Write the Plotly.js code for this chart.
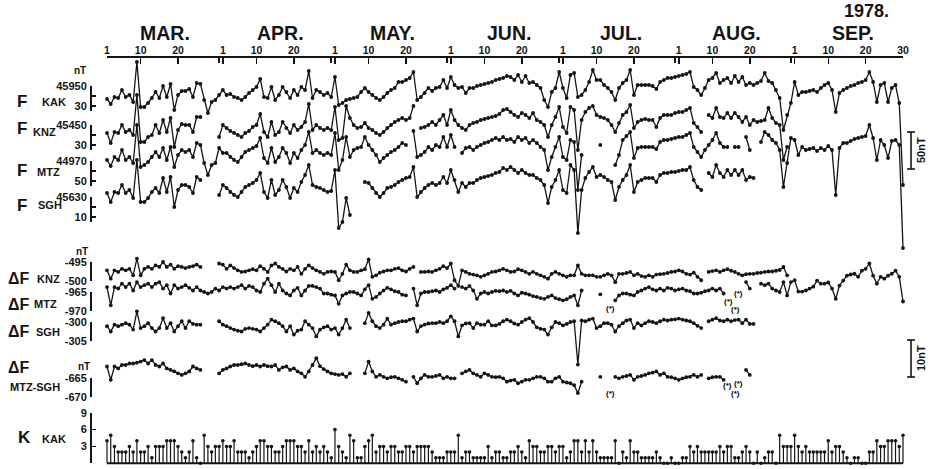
<!DOCTYPE html>
<html><head><meta charset="utf-8">
<script src="https://cdn.plot.ly/plotly-3.0.1.min.js"></script>
<style>html,body{margin:0;padding:0;background:#fff}#chart{width:930px;height:469px}</style>
</head><body><div id="chart"></div>
<script>
const N = null;
// ---- categories: 1 March 1978 .. 30 September 1978 (one value per day) ----
const monthNames = ['MAR.','APR.','MAY.','JUN.','JUL.','AUG.','SEP.'];
const monthLengths = [31,30,31,30,31,31,30];
const dayTickLabels = [1,10,20];
const yearLabel = '1978.';

// ---- F, total intensity (nT) ----
const fKAK = [45937,45932,45939,45938,45946,45939,45941,45934,45974,45929,
 45929,45933,45938,45944,45938,45950,45939,45952,45926,45941,
 45945,45945,45947,45939,45953,45952,45936,45923,45934,45936,
 45941,45946,45941,45942,45939,45938,45936,45939,45943,45946,
 45949,45957,45939,45938,45949,45936,45941,45949,45944,45938,
 45946,45941,45949,45946,45965,45938,45946,45944,45941,45943,
 45939,45959,45931,45933,45936,45937,45938,45939,45944,45948,
 45944,45941,45938,45936,45939,45943,45946,45948,45954,45954,
 45956,45958,45964,45936,45939,45943,45948,45945,45948,45949,
 45956,45948,45959,45951,45948,45949,45943,45948,45948,45950,
 45951,45952,45953,45954,45956,45957,45958,45960,45959,45956,
 45961,45954,45960,45953,45954,45951,45948,45936,45929,45944,
 45948,45964,45948,45938,45961,45963,45939,45941,45946,45954,
 45966,45956,45956,45951,45948,45944,45936,45948,45953,45956,
 45966,45941,45951,45951,45951,45951,45950,45947,45954,45956,
 45958,45958,45959,45960,45961,45962,45964,45949,45946,45941,
 45948,45956,45958,45963,45953,45956,45958,45953,45960,45954,
 45959,45951,45953,45951,45953,45955,45963,45955,45953,45946,
 45938,45906,45921,45933,45954,45941,45944,45944,45945,45946,
 45944,45948,45951,45953,45946,45924,45943,45946,45948,45950,
 45951,45953,45954,45956,45964,45954,45934,45951,45953,45934,
 45948,45951,45933,45851];
const fKNZ = [45442,45432,45443,45442,45450,45443,45445,45440,45480,45433,
 45433,45438,45440,45450,45442,45455,45443,45457,45428,45445,
 45451,45450,45450,45443,45458,45458,N,N,N,N,
 45438,45450,45447,45444,45442,45440,45438,45442,45444,45448,
 45450,45461,45443,45438,45453,45440,45443,45453,45447,45442,
 45450,45445,45448,45453,45471,45445,45450,45447,45445,45447,
 45445,45468,45435,45437,45469,45457,45450,45447,45448,45452,
 45447,45445,45442,45440,45443,45447,45450,45453,45455,45457,
 45455,45457,45469,N,45447,45448,45450,45453,45450,45455,
 45460,45450,45465,45455,45450,45447,45445,45450,45452,45453,
 45455,45456,45457,45458,45459,45461,45465,45466,45463,45460,
 45458,45462,45460,45457,45462,45455,45453,45450,45438,45450,
 45458,45468,45448,45442,45468,45465,45425,45455,45463,45467,
 45469,45460,45458,45457,45455,45450,45443,45452,45460,45463,
 45470,45447,45453,45455,45456,45455,45455,45448,45457,45460,
 45460,45460,45462,45463,45463,45465,45467,45452,45448,45443,
 N,45460,45457,45467,45458,45457,45462,45457,45462,45458,
 45453,45458,45450,45455,45453,45454,45455,45467,45457,45452,
 45450,45415,45428,N,N,N,N,N,N,N,
 N,N,N,N,N,N,N,N,N,N,
 N,N,N,N,N,N,N,N,N,N,
 N,N,N,N];
const fMTZ = [44971,44965,44974,44971,44981,44971,44974,44968,45006,44964,
 44966,44969,44974,44979,44974,44983,44971,44984,44964,44976,
 44981,44979,44981,44974,44988,44986,44968,44956,44966,44968,
 44983,44978,44978,44974,44971,44969,44974,44979,44981,44983,
 44985,44993,44973,44968,44983,44969,44974,44983,44978,44968,
 44978,44973,44981,44986,44999,44978,44981,44978,44976,44978,
 44976,44998,44961,44971,44994,44974,44981,44983,44984,44994,
 44986,44981,44976,44969,44973,44976,44979,44981,44984,44988,
 44986,N,45000,44974,44976,44979,44984,44981,44986,44984,
 44994,44984,44996,44984,N,44978,44983,44984,44981,44984,
 44986,44988,44989,44991,44993,44991,44994,44991,44992,44989,
 44994,44991,44993,44988,44991,44988,44984,44981,44961,44974,
 44984,44994,44974,44971,44991,44989,44941,44976,N,N,
 N,N,44986,N,N,N,44966,44976,44991,44995,
 44999,44973,44983,44984,44984,44984,44984,44982,44989,44991,
 44991,44992,44993,44994,44994,44996,44998,44984,44979,44974,
 44981,44986,44991,44998,44988,44984,44984,N,44984,44984,
 N,44994,44981,N,N,44989,44999,44996,44991,44988,
 44981,44944,44968,44993,44991,44976,44984,44981,44982,44983,
 44980,44983,44981,44985,44981,44936,44983,44988,44988,44990,
 44992,44993,44994,44995,45006,44993,44971,44991,44986,44973,
 44990,44991,44986,44883];
const fSGH = [45634,45625,45635,45634,45642,45634,45637,45629,45667,45625,
 45625,45629,45635,45639,45634,45649,45635,45650,45620,45637,
 45642,45642,45640,45634,45650,45647,N,N,N,N,
 45632,45642,45639,45635,45632,45630,45635,45640,45642,45644,
 45647,45654,45635,45629,45647,45632,45637,45647,45640,45629,
 45639,45635,45645,45652,45662,45642,45640,45639,45637,45635,
 45636,45657,45599,45605,45629,45612,N,N,N,45645,
 45644,45639,45634,45630,45634,45639,45640,45642,45645,45647,
 45649,45650,45660,45630,45635,45639,45642,45644,45642,45644,
 45650,45644,45657,45647,45635,45644,45640,45644,45644,45647,
 45649,45650,45651,45652,45654,45655,45659,45657,45660,45657,
 45654,45657,45654,45652,45652,45649,45647,45642,45624,45640,
 45647,45657,45637,45634,45662,45657,45594,45637,45649,45655,
 45660,45650,45652,45650,45647,45645,45627,45640,45647,45652,
 45662,45635,45645,45647,45649,45649,45649,45645,45652,45654,
 45654,45655,45655,45656,45657,45657,45660,45647,45640,45637,
 N,45654,45650,45662,45654,45650,45657,45652,45657,45652,
 45657,45647,45650,45649,N,N,N,N,N,N,
 N,N,N,N,N,N,N,N,N,N,
 N,N,N,N,N,N,N,N,N,N,
 N,N,N,N,N,N,N,N,N,N,
 N,N,N,N];

// ---- Delta F, station minus KAK (nT) ----
const dKNZ = [-497.2,-499.4,-497.2,-497.6,-496.8,-497.2,-496.8,-498.5,-494.1,-498.5,
 -496.8,-496.3,-496.8,-495.9,-496.3,-495.0,-496.3,-495.7,-496.8,-496.1,
 -496.3,-496.6,-496.3,-496.1,-495.7,-496.3,N,N,N,N,
 -495.4,-495.7,-496.8,-495.9,-496.6,-497.2,-497.6,-497.5,-497.2,-496.9,
 -497.2,-496.1,-496.8,-497.6,-495.9,-495.4,-496.3,-496.8,-497.5,-496.8,
 -497.2,-496.3,-498.1,-496.8,-495.9,-496.6,-497.2,-497.6,-498.1,-497.6,
 -497.5,-497.6,-499.8,-498.1,-495.7,-497.2,-497.6,-497.6,-497.2,-496.9,
 -494.3,-498.9,-498.5,-497.8,-497.5,-497.2,-497.2,-496.8,-496.6,-497.2,
 -497.5,-496.8,-496.3,N,-497.6,-497.6,-497.5,-497.6,-497.2,-496.8,
 -496.1,-496.6,-495.4,-499.8,-501.3,-497.2,-497.6,-498.1,-498.3,-498.5,
 -498.9,-498.5,-498.1,-497.6,-497.5,-497.2,-496.8,-497.2,-497.6,-497.5,
 -496.9,-497.2,-497.6,-498.1,-497.6,-498.1,-498.5,-498.9,-499.4,-498.1,
 -497.6,-498.1,-498.5,-498.9,-498.5,-498.5,-495.9,-498.1,-498.5,-498.5,
 -498.5,-498.9,-498.9,-498.5,-498.1,-498.5,-500.3,-498.1,-498.1,-497.9,
 -497.6,-498.5,-498.1,-498.7,-498.9,-498.5,-498.9,-498.3,-498.2,-498.1,
 -497.9,-497.6,-497.5,-497.2,-497.5,-498.1,-498.3,-497.8,-498.9,-499.8,
 N,-497.6,-497.4,-497.2,-497.6,-497.2,-496.9,-497.3,-497.6,-498.1,
 -498.5,-498.2,-498.1,-498.1,-497.9,-497.8,-497.6,-497.5,-497.5,-497.3,
 -497.1,-496.3,-498.5,N,N,N,N,N,N,N,
 N,N,N,N,N,N,N,N,N,N,
 N,N,N,N,N,N,N,N,N,N,
 N,N,N,N];
const dMTZ = [-963.7,-968.5,-963.7,-964.1,-962.8,-963.7,-962.8,-964.6,-962.4,-963.7,
 -963.2,-962.8,-963.7,-962.8,-962.4,-964.1,-963.2,-965.4,-963.2,-964.1,
 -963.7,-963.2,-963.9,-964.6,-963.7,-964.6,-965.0,-965.4,-965.0,-964.1,
 -964.6,-963.7,-964.1,-963.7,-964.1,-963.7,-963.2,-964.1,-963.4,-963.7,
 -964.6,-965.0,-962.8,-961.5,-963.2,-965.0,-962.8,-964.6,-965.4,-965.9,
 -964.6,-963.9,-965.9,-964.6,-963.4,-963.4,-963.7,-964.1,-965.4,-965.4,
 -965.7,-965.9,-968.1,-965.9,-965.4,-965.0,-965.0,-965.4,-965.9,-964.3,
 -963.2,-966.8,-966.3,-965.4,-964.6,-963.9,-964.3,-964.8,-965.0,-965.7,
 -965.9,N,-964.1,-968.5,-965.4,-965.0,-965.0,-964.8,-964.6,-965.0,
 -964.3,-963.9,-963.2,-964.1,N,-963.7,-964.1,-963.4,-964.6,-966.8,
 -965.4,-965.0,-965.4,-965.0,-964.7,-964.8,-964.6,-965.0,-964.7,-965.4,
 -965.9,-965.2,-965.4,-965.7,-966.1,-966.3,-966.6,-966.8,-966.3,-965.9,
 -966.6,-966.9,-967.2,-966.9,-966.3,-965.9,-968.5,-964.6,N,N,
 N,N,-965.6,N,N,N,-967.2,-965.9,-965.4,-965.4,
 -965.7,-965.9,-965.0,-964.6,-964.1,-963.7,-964.3,-964.6,-964.1,-964.6,
 -963.9,-964.1,-964.6,-964.3,-964.1,-964.6,-964.8,-965.4,-965.4,-965.2,
 -964.8,-964.6,-964.1,-964.6,-964.1,-965.4,N,N,N,N,
 N,-962.4,-964.1,N,N,-962.8,-963.2,-962.8,-964.1,-964.6,
 -965.0,-962.4,-965.9,-962.4,-961.9,-964.9,-964.9,-964.6,-964.1,-963.6,
 -962.0,-962.8,-962.8,-962.5,-964.1,-966.8,-963.3,-962.0,-960.7,-960.4,
 -960.2,-961.0,-959.4,-958.9,-957.5,-960.7,-962.8,-961.0,-961.5,-960.7,
 -960.2,-959.4,-961.0,-967.5];
const dSGH = [-301.1,-302.5,-300.7,-301.1,-300.7,-300.3,-300.7,-302.0,-297.2,-301.6,
 -301.1,-300.3,-301.6,-302.5,-301.6,-299.0,-301.6,-300.3,-302.5,-301.1,
 -299.8,-301.6,-299.8,-300.5,-300.7,-300.7,N,N,N,N,
 -299.8,-300.7,-301.1,-301.6,-302.0,-302.3,-302.5,-301.8,-301.6,-301.8,
 -302.0,-302.5,-301.6,-300.7,-299.4,-299.8,-300.3,-301.1,-302.5,-301.1,
 -303.3,-302.3,-302.0,-299.8,-300.7,-301.6,-303.8,-302.0,-301.4,-301.1,
 -302.0,-301.6,-303.3,-301.6,-299.4,-301.6,N,N,N,-300.3,
 -297.6,-299.8,-301.1,-301.6,-300.7,-299.1,-300.7,-300.3,-300.0,-299.8,
 -299.8,-299.4,-299.1,-302.5,-301.1,-300.7,-300.4,-300.3,-300.3,-300.0,
 -300.3,-299.8,-298.5,-299.8,-303.8,-300.9,-300.4,-300.3,-301.6,-300.3,
 -300.7,-300.7,-299.8,-300.9,-300.9,-300.5,-299.8,-299.4,-299.8,-300.4,
 -300.7,-300.0,-299.4,-299.0,-300.0,-301.4,-301.8,-302.0,-303.3,-301.4,
 -300.0,-300.3,-300.9,-300.5,-300.0,-299.8,-311.2,-299.6,-299.8,-299.4,
 -299.1,-301.6,-301.1,-300.3,-300.3,-300.7,-302.5,-301.1,-300.3,-299.6,
 -299.4,-301.6,-300.3,-300.9,-300.3,-299.8,-300.0,-300.3,-299.8,-299.4,
 -299.6,-299.4,-299.3,-299.1,-299.4,-299.6,-299.8,-300.3,-301.0,-301.6,
 N,-299.8,-299.4,-299.0,-299.6,-299.8,-299.4,-299.8,-299.5,-299.4,
 -300.3,-299.4,-300.5,-300.5,N,N,N,N,N,N,
 N,N,N,N,N,N,N,N,N,N,
 N,N,N,N,N,N,N,N,N,N,
 N,N,N,N,N,N,N,N,N,N,
 N,N,N,N];
const dMTZminusSGH = [-661.9,-665.4,-661.9,-662.4,-661.5,-661.5,-661.1,-661.1,-660.9,-660.6,
 -660.2,-661.1,-660.2,-661.5,-661.9,-661.1,-662.4,-662.8,-663.2,-663.7,
 -664.1,-663.7,-663.2,-661.9,-662.4,-662.8,N,N,N,N,
 -663.7,-662.8,-662.4,-661.9,-661.5,-661.5,-661.3,-661.1,-661.5,-661.8,
 -661.5,-661.9,-661.5,-661.8,-661.9,-661.5,-662.8,-662.1,-661.9,-662.8,
 -662.4,-663.2,-663.7,-664.6,-663.2,-661.5,-659.7,-661.8,-662.6,-663.2,
 -663.7,-663.9,-664.1,-663.9,-664.6,-663.7,N,N,N,-663.7,
 -660.6,-663.2,-664.6,-664.1,-664.6,-665.0,-664.7,-664.6,-665.0,-665.4,
 -665.9,N,-664.6,-666.3,-665.0,-664.1,-664.6,-664.6,-664.4,-664.1,
 -665.0,-664.6,-665.0,-665.0,N,-663.7,-663.2,-662.8,-663.7,-664.1,
 -664.6,-663.7,-664.1,-664.6,-664.7,-664.6,-665.0,-665.9,-665.6,-665.4,
 -666.3,-665.9,-665.4,-665.4,-665.0,-664.6,-664.6,-665.0,-665.9,-665.9,
 -665.0,-664.6,-665.9,-666.1,-666.3,-666.8,-668.9,-665.9,N,N,
 N,N,-664.6,N,N,N,-664.6,-665.0,-664.6,-664.4,
 -664.1,-665.4,-664.6,-664.4,-664.1,-663.7,-663.5,-663.2,-664.1,-663.7,
 -664.6,-664.7,-665.0,-665.4,-665.0,-664.7,-664.6,-664.1,-664.6,-664.1,
 N,-665.0,-664.7,-664.6,-664.6,-665.4,N,N,N,N,
 N,-662.8,-664.1,N,N,N,N,N,N,N,
 N,N,N,N,N,N,N,N,N,N,
 N,N,N,N,N,N,N,N,N,N,
 N,N,N,N,N,N,N,N,N,N,
 N,N,N,N];

// ---- K index at KAK ----
const kKAK = [4,5,3,2,2,2,3,2,4,2, 2,3,1,3,3,3,4,4,4,3, 2,1,2,4,1,0,5,3,2,3,
 3,4,3,3,4,2,2,2,1,2, 3,4,4,3,3,2,2,3,4,4, 4,3,3,2,4,2,3,2,3,2,
 1,6,3,2,1,5,4,1,1,3, 4,5,2,3,3,2,3,3,2,2, 3,3,2,3,3,3,3,2,1,1,
 1,2,2,2,5,1,2,2,1,1, 1,1,3,1,2,2,1,1,2,2, 3,2,1,4,3,3,2,2,3,3,
 2,3,3,1,2,4,4,2,4,2, 4,2,1,1,1,1,4,0,2,1, 4,2,2,1,1,1,1,2,1,0,
 0,1,0,0,1,1,3,2,3,2, 2,2,2,2,3,2,3,3,1,1, 2,3,2,0,2,0,1,2,2,0,
 5,3,3,3,5,3,2,3,2,2, 2,2,2,4,2,3,3,2,1,0, 1,1,0,0,2,2,4,3,3,4,
 4,4,3,5];

// ---------------- drawing ----------------
const W = 930, H = 469;
const INK = '#141414';
const FONT = 'Liberation Sans, Arial, sans-serif';
const NARROW = 'Liberation Sans Narrow, Arial Narrow, Liberation Sans, sans-serif';
const FIRST_DAY_PX = 107, LAST_DAY_PX = 903, BRACKET_X = 90, TOP_AXIS_PX = 57;
const nDays = fKAK.length;
const dayNum = fKAK.map((_, i) => i + 1);
const pxPerDay = (LAST_DAY_PX - FIRST_DAY_PX) / (nDays - 1);
const pY = py => 1 - py / H;
const pX = px => px / W;

// panel layout: where each scale sits on the page (value at pixel row, pixels per unit)
const panels = [
  {data: fKAK, ref: 45950, refPx: 86, ppu: 1, br: [45925, 45950], tv: [45925, 45930, 45940, 45950], tt: ['', '30', '', '45950']},
  {data: fKNZ, ref: 45450, refPx: 125, ppu: 1, br: [45425, 45450], tv: [45425, 45430, 45440, 45450], tt: ['', '30', '', '45450']},
  {data: fMTZ, ref: 44970, refPx: 161, ppu: 1, br: [44945, 44970], tv: [44945, 44950, 44960, 44970], tt: ['', '50', '', '44970']},
  {data: fSGH, ref: 45630, refPx: 197, ppu: 1, br: [45605, 45630], tv: [45605, 45610, 45620, 45630], tt: ['', '10', '', '45630']},
  {data: dKNZ, ref: -495, refPx: 262, ppu: 3.8, br: [-500, -495], tv: [-500, -495], tt: ['-500', '-495']},
  {data: dMTZ, ref: -965, refPx: 292, ppu: 3.8, br: [-970, -965], tv: [-970, -965], tt: ['-970', '-965']},
  {data: dSGH, ref: -300, refPx: 322, ppu: 3.8, br: [-305, -300], tv: [-305, -300], tt: ['-305', '-300']},
  {data: dMTZminusSGH, ref: -665, refPx: 378.3, ppu: 3.8, br: [-670, -665], tv: [-670, -665], tt: ['-670', '-665']},
  {data: kKAK, ref: 0, refPx: 463.3, ppu: 5.62, br: [0, 9], tv: [0, 3, 6, 9], tt: ['0', '3', '6', '9'], bars: true}
];

const layout = {
  width: W, height: H, margin: {l: 0, r: 0, t: 0, b: 0, pad: 0},
  paper_bgcolor: '#ffffff', plot_bgcolor: 'rgba(0,0,0,0)', showlegend: false,
  font: {family: FONT, color: INK},
  xaxis: {domain: [0, 1], range: [1 - FIRST_DAY_PX / pxPerDay, 1 + (W - FIRST_DAY_PX) / pxPerDay], visible: false, fixedrange: true},
  annotations: [], shapes: []
};
const traces = [];

panels.forEach((p, i) => {
  const di = i + 1, bi = panels.length + i + 1;
  const dName = di === 1 ? 'y' : 'y' + di;
  const valAt = py => p.ref - (py - p.refPx) / p.ppu;
  const pxAt = v => p.refPx - (v - p.ref) * p.ppu;
  layout['yaxis' + (di === 1 ? '' : di)] = {domain: [0, 1], range: [valAt(H), valAt(0)], visible: false, fixedrange: true};
  layout['yaxis' + bi] = {
    domain: [pY(pxAt(p.br[0])), pY(pxAt(p.br[1]))], range: p.br, anchor: 'free', position: pX(BRACKET_X), side: 'left',
    showline: true, linecolor: INK, linewidth: 1.6, ticks: 'inside', ticklen: 4, tickwidth: 1.5, tickcolor: INK,
    tickmode: 'array', tickvals: p.tv, ticktext: p.tt, ticklabelstandoff: 1,
    tickfont: {family: FONT, size: 11, color: INK, weight: 'bold'},
    showgrid: false, zeroline: false, fixedrange: true
  };
  traces.push({x: [null], y: [null], xaxis: 'x', yaxis: 'y' + bi, mode: 'markers', hoverinfo: 'skip'});
  if (p.bars) {
    traces.push({type: 'bar', x: dayNum, y: p.data, xaxis: 'x', yaxis: dName, width: 0.32,
      marker: {color: INK, line: {width: 0}}, hoverinfo: 'skip'});
    traces.push({type: 'scatter', mode: 'markers', x: dayNum, y: p.data, xaxis: 'x', yaxis: dName,
      marker: {size: 3.6, color: INK}, hoverinfo: 'skip', cliponaxis: false});
    layout.shapes.push({type: 'line', xref: 'x', yref: dName, x0: 1, x1: nDays, y0: 0, y1: 0, line: {color: INK, width: 2}});
  } else {
    traces.push({type: 'scatter', mode: 'lines+markers', x: dayNum, y: p.data, xaxis: 'x', yaxis: dName,
      connectgaps: false, line: {color: INK, width: 1.3}, marker: {size: 3.8, color: INK}, hoverinfo: 'skip', cliponaxis: false});
  }
});

// top date axis
const monthStart = [];
monthLengths.reduce((acc, len) => { monthStart.push(acc); return acc + len; }, 1);
const tickV = [], tickT = [], monthEnds = [];
monthStart.forEach((s, m) => {
  dayTickLabels.forEach(d => { tickV.push(s + d - 1); tickT.push(String(d)); });
  if (m < monthStart.length - 1) monthEnds.push(s + monthLengths[m] - 1);
});
tickV.push(nDays); tickT.push(String(monthLengths[monthLengths.length - 1]));
layout.xaxis2 = {
  domain: [pX(FIRST_DAY_PX), pX(LAST_DAY_PX)], range: [1, nDays], anchor: 'free', position: pY(TOP_AXIS_PX), side: 'top',
  showline: true, linecolor: INK, linewidth: 2, ticks: 'inside', ticklen: 6, tickwidth: 1.5, tickcolor: INK,
  tickmode: 'array', tickvals: tickV, ticktext: tickT, ticklabelstandoff: -2,
  tickfont: {family: FONT, size: 10.5, color: INK, weight: 'bold'},
  minor: {tickmode: 'array', tickvals: monthEnds, ticks: 'inside', ticklen: 5, tickwidth: 1.5, tickcolor: INK},
  showgrid: false, zeroline: false, fixedrange: true
};
traces.push({x: [null], y: [null], xaxis: 'x2', yaxis: 'y', mode: 'markers', hoverinfo: 'skip'});

// month names and year
monthStart.forEach((s, m) => {
  layout.annotations.push({xref: 'x', yref: 'paper', x: s + 15.5, y: pY(m === monthStart.length - 1 ? 33 : 33),
    text: monthNames[m], showarrow: false, xanchor: 'center', yanchor: 'middle',
    font: {family: NARROW, size: 19.5, color: INK, weight: 'bold'}});
});
layout.annotations.push({xref: 'paper', yref: 'paper', x: pX(866), y: pY(11), text: yearLabel, showarrow: false,
  xanchor: 'center', yanchor: 'middle', font: {family: NARROW, size: 18, color: INK, weight: 'bold'}});

// left-hand row titles
const rowLabels = [
  ['nT', 80, 70, 10], ['F', 22, 101, 17], ['KAK', 54, 102, 11], ['F', 22, 128, 17], ['KNZ', 44, 132, 11],
  ['F', 22, 170, 17], ['MTZ', 48, 172, 11], ['F', 22, 206, 17], ['SGH', 50, 205, 11],
  ['nT', 82, 251, 10], ['ΔF', 19, 278, 16], ['KNZ', 48, 279, 11], ['ΔF', 19, 304, 16], ['MTZ', 45, 304, 11],
  ['ΔF', 19, 331, 16], ['SGH', 48, 332, 11], ['ΔF', 19, 367, 16], ['MTZ-SGH', 35, 387, 11], ['nT', 84, 366, 10],
  ['K', 24, 437, 17], ['KAK', 54, 439, 11]
];
rowLabels.forEach(([t, x, y, s]) => layout.annotations.push({xref: 'paper', yref: 'paper', x: pX(x), y: pY(y), text: t,
  showarrow: false, xanchor: 'center', yanchor: 'middle', font: {family: FONT, size: s, color: INK, weight: 'bold'}}));

// flagged-value marks "(*)" in the Delta F rows  [day, panel index, value]
const flagMarks = [[135.6, 5, -969.4], [167.3, 5, -967.5], [169.9, 5, -965.4], [169.3, 5, -969.6],
  [135.6, 7, -668.9], [167.0, 7, -667.0], [169.9, 7, -666.3], [169.3, 7, -669.1]];
flagMarks.forEach(([d, pi, v]) => layout.annotations.push({xref: 'x', yref: 'y' + (pi + 1), x: d, y: v, text: '(*)',
  showarrow: false, font: {family: FONT, size: 8, color: '#000000', weight: 'bold'}}));

// scale bars on the right
[[132, 169, 150, '50nT'], [340, 377, 358, '10nT']].forEach(([a, b, c, t]) => {
  layout.shapes.push({type: 'line', xref: 'paper', yref: 'paper', x0: pX(911), x1: pX(911), y0: pY(a), y1: pY(b), line: {color: INK, width: 1.6}});
  layout.shapes.push({type: 'line', xref: 'paper', yref: 'paper', x0: pX(907), x1: pX(915), y0: pY(a), y1: pY(a), line: {color: INK, width: 1.6}});
  layout.shapes.push({type: 'line', xref: 'paper', yref: 'paper', x0: pX(907), x1: pX(915), y0: pY(b), y1: pY(b), line: {color: INK, width: 1.6}});
  layout.annotations.push({xref: 'paper', yref: 'paper', x: pX(921), y: pY(c), text: t, textangle: -90, showarrow: false,
    xanchor: 'center', yanchor: 'middle', font: {family: FONT, size: 11, color: INK, weight: 'bold'}});
});

Plotly.newPlot('chart', traces, layout, {staticPlot: true, displayModeBar: false});
</script>
</body></html>
